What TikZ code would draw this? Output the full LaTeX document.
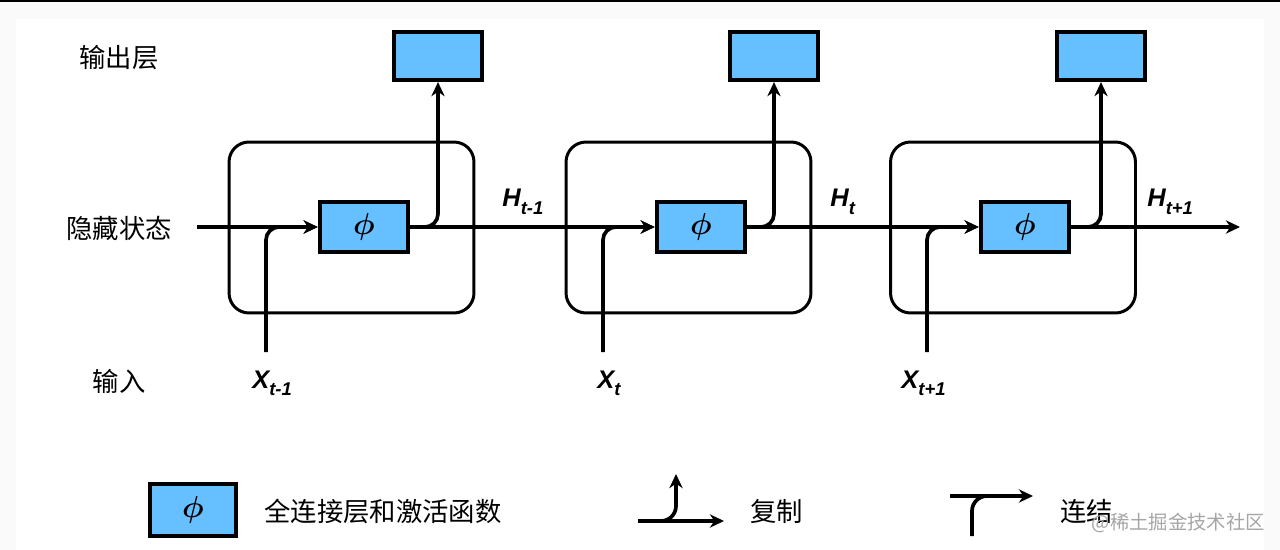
\documentclass[tikz,border=0pt]{standalone}
\usepackage{fontspec}
\usepackage{bm}
\newfontfamily\cjk{Noto Sans CJK SC}
\newfontfamily\labfont{Liberation Sans}
\usetikzlibrary{arrows.meta}
\definecolor{boxblue}{RGB}{102,191,255}
\definecolor{bggray}{RGB}{250,250,250}
\newcommand\mysub[1]{\raisebox{-0.55ex}{\fontsize{10.5}{10.5}\selectfont #1}}
\begin{document}
\begin{tikzpicture}[x=0.02cm,y=-0.02cm,
  wire/.style={line width=2.1pt},
  arr/.style={wire,-{Stealth[length=8pt,width=7.5pt,inset=2.5pt]}},
  cell/.style={draw,line width=1.7pt,rounded corners=0.4cm,minimum width=4.9cm,minimum height=3.42cm,inner sep=0},
  phibox/.style={draw,line width=2.6pt,fill=boxblue,minimum width=1.76cm,minimum height=1cm,inner sep=0,font=\fontsize{16}{16}\selectfont},
  outbox/.style={draw,line width=2.4pt,fill=boxblue,minimum width=1.76cm,minimum height=0.96cm,inner sep=0},
  zh/.style={font=\cjk\fontsize{15}{15}\selectfont,inner sep=0},
  lab/.style={font=\labfont\bfseries\itshape\fontsize{14.5}{14.5}\selectfont,inner sep=0}
]
\fill[bggray] (0,0) rectangle (1280,550);
\fill[white] (16,19) rectangle (1264,550);
\fill[black] (0,0) rectangle (1280,2);
\useasboundingbox (0,0) rectangle (1280,550);

% cells
\node[cell] (h1) at (351.5,227.5) {};
\node[cell] (h2) at (688.5,227.5) {};
\node[cell] (h3) at (1013,227.5) {};

% output boxes
\node[outbox] (o1) at (438,56) {};
\node[outbox] (o2) at (774,56) {};
\node[outbox] (o3) at (1101,56) {};

% phi boxes
\node[phibox] (p1) at (364,227) {$\bm{\phi}$};
\node[phibox] (p2) at (701,227) {$\bm{\phi}$};
\node[phibox] (p3) at (1025,227) {$\bm{\phi}$};

% hidden state line
\coordinate (hin) at (197,227);
\coordinate (hout) at (1240,227);
\draw[arr] (hin) -- (p1);
\draw[arr] (p1) -- (p2);
\draw[arr] (p2) -- (p3);
\draw[arr] (p3) -- (hout);

% inputs
\coordinate (x1) at (266,352);
\coordinate (x2) at (603,352);
\coordinate (x3) at (927,352);
\draw[arr,rounded corners=0.26cm] (x1) |- (p1.west);
\draw[arr,rounded corners=0.26cm] (x2) |- (p2.west);
\draw[arr,rounded corners=0.26cm] (x3) |- (p3.west);

% outputs
\draw[arr,rounded corners=0.26cm] (p1.east) -| (o1.south);
\draw[arr,rounded corners=0.26cm] (p2.east) -| (o2.south);
\draw[arr,rounded corners=0.26cm] (p3.east) -| (o3.south);

% row labels
\node[zh] (lout) at (119,58) {输出层};
\node[zh] (lhid) at (119,228) {隐藏状态};
\node[zh] (lin) at (119,381) {输入};

% H labels
\node[lab,anchor=base west] (hl1) at (502,207) {H\mysub{t-1}};
\node[lab,anchor=base west] (hl2) at (830,207) {H\mysub{t}};
\node[lab,anchor=base west] (hl3) at (1147,207) {H\mysub{t+1}};

% X labels
\node[lab,anchor=base west] (xl1) at (252,388) {X\mysub{t-1}};
\node[lab,anchor=base west] (xl2) at (597,388) {X\mysub{t}};
\node[lab,anchor=base west] (xl3) at (901,388) {X\mysub{t+1}};

% legend
\node[phibox,minimum width=1.72cm,minimum height=1.04cm] (lb) at (193,510) {$\bm{\phi}$};
\node[zh,anchor=west] (lbt) at (264,511) {全连接层和激活函数};

\coordinate (ca) at (638,521);
\coordinate (cb) at (724,521);
\coordinate (cc) at (656,521);
\coordinate (cd) at (676,474);
\draw[arr] (ca) -- (cb);
\draw[arr,rounded corners=0.3cm] (cc) -| (cd);
\node[zh,anchor=west] (cpt) at (750,511) {复制};

\coordinate (ka) at (950,496);
\coordinate (kb) at (1033,496);
\coordinate (kc) at (972,536);
\coordinate (kd) at (992,496);
\draw[arr] (ka) -- (kb);
\draw[wire,rounded corners=0.3cm] (kc) |- (kd);
\node[zh,anchor=west] (kt) at (1060,511) {连结};

\node[font=\cjk\fontsize{11}{11}\selectfont,text=black!35,anchor=east,inner sep=0] (wm) at (1265,523) {@稀土掘金技术社区};
\end{tikzpicture}
\end{document}
